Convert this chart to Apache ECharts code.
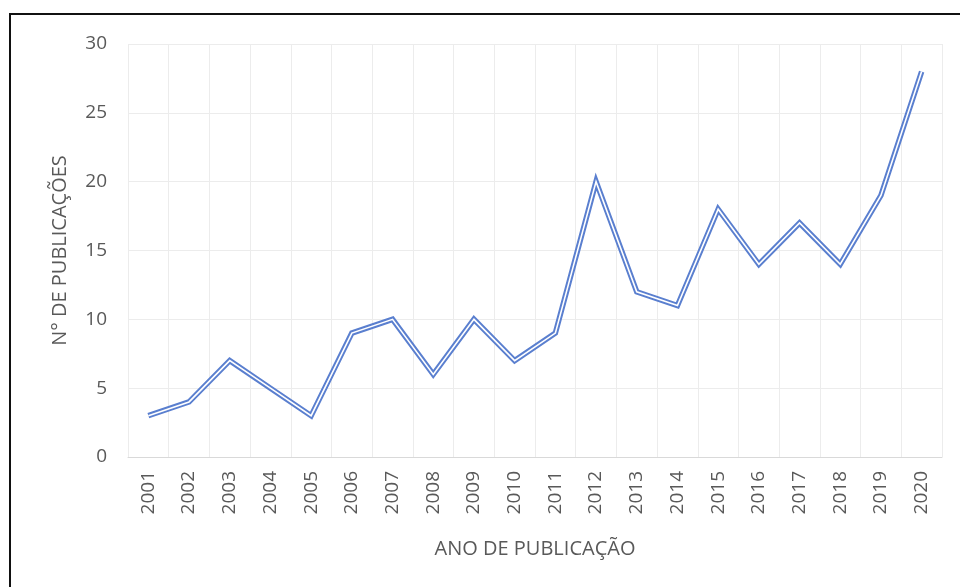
<!DOCTYPE html>
<html>
<head>
<meta charset="utf-8">
<script src="https://cdn.jsdelivr.net/npm/echarts@6/dist/echarts.min.js"></script>
<style>
  html, body { margin: 0; padding: 0; background: #fff; }
  #frame { position: absolute; left: 9px; top: 13px; width: 960px; height: 580px; border: 2px solid #111; box-sizing: border-box; }
  #chart { position: absolute; left: 0; top: 0; width: 960px; height: 587px; }
</style>
</head>
<body>
<div id="frame"></div>
<div id="chart"></div>
<script>
// Publications per year
const years = ['2001','2002','2003','2004','2005','2006','2007','2008','2009','2010',
               '2011','2012','2013','2014','2015','2016','2017','2018','2019','2020'];
const publications = [3, 4, 7, 5, 3, 9, 10, 6, 10, 7, 9, 20, 12, 11, 18, 14, 17, 14, 19, 28];
const yTicks = [0, 5, 10, 15, 20, 25, 30];

const font = '"Open Sans", "Noto Sans", sans-serif';
const chart = echarts.init(document.getElementById('chart'));
chart.setOption({
  animation: false,
  grid: { left: 128, right: 18, top: 44, bottom: 130 },
  xAxis: {
    type: 'category',
    data: years,
    boundaryGap: true,
    name: 'ANO DE PUBLICAÇÃO',
    nameLocation: 'middle',
    nameGap: 82,
    nameTextStyle: { color: '#595959', fontSize: 20, fontFamily: font },
    axisLine: { show: true, lineStyle: { color: '#d9d9d9', width: 1 } },
    axisTick: { show: false },
    axisLabel: { rotate: 90, color: '#595959', fontSize: 19, fontFamily: font, margin: 14, interval: 0 },
    splitLine: { show: true, interval: 0, lineStyle: { color: '#ececec', width: 1 } }
  },
  yAxis: {
    type: 'value',
    min: yTicks[0],
    max: yTicks[yTicks.length - 1],
    interval: 5,
    name: 'N° DE PUBLICAÇÕES',
    nameLocation: 'middle',
    nameGap: 58,
    nameTextStyle: { color: '#595959', fontSize: 20, fontFamily: font },
    axisLine: { show: false },
    axisTick: { show: false },
    axisLabel: { color: '#595959', fontSize: 19, fontFamily: font, margin: 21 },
    splitLine: { show: true, lineStyle: { color: '#ececec', width: 1 } }
  },
  series: [
    {
      // outer stroke of the double line
      type: 'line',
      data: publications,
      symbol: 'none',
      lineStyle: { color: '#5a7fcf', width: 5.5, join: 'miter' },
      z: 2
    },
    {
      // inner light stroke
      type: 'line',
      data: publications,
      symbol: 'none',
      lineStyle: { color: '#ffffff', width: 1.6, join: 'miter' },
      z: 3
    }
  ]
});
</script>
</body>
</html>
